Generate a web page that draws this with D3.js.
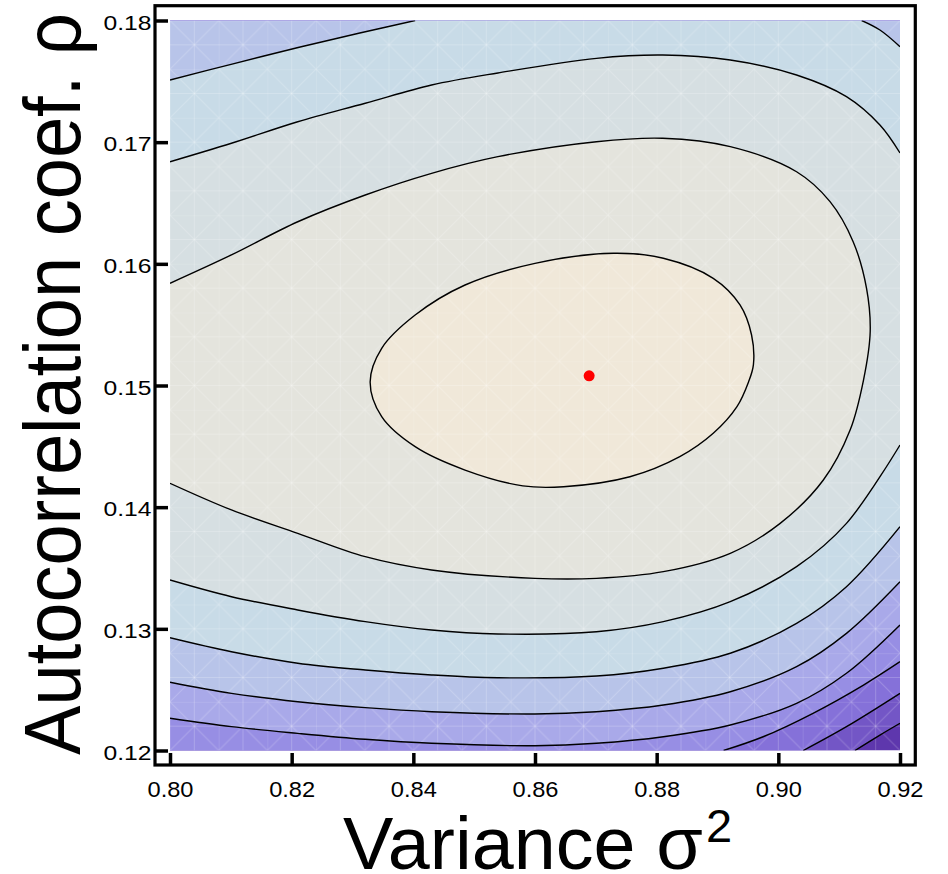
<!DOCTYPE html>
<html>
<head>
<meta charset="utf-8">
<script src="https://cdn.jsdelivr.net/npm/d3@7"></script>
<style>
  html, body { margin: 0; padding: 0; background: #fff; }
  svg { display: block; }
  text { font-family: "Liberation Sans", Arial, Helvetica, sans-serif; fill: #000; }
</style>
</head>
<body>
<svg id="chart" width="948" height="874"></svg>
<script>
// Axis ticks
const sigmaTicks = [0.80, 0.82, 0.84, 0.86, 0.88, 0.90, 0.92];
const rhoTicks = [0.12, 0.13, 0.14, 0.15, 0.16, 0.17, 0.18];

// Maximum-likelihood estimate (σ², ρ)
const estimate = [0.8689, 0.1508];

// Contour lines of the likelihood surface, [σ², ρ] pairs, highest level first
const level1 = [ // closed loop around the estimate
  [0.8329, 0.15029], [0.8348, 0.15306], [0.8403, 0.15579], [0.8485, 0.15826],
  [0.8600, 0.16004], [0.8729, 0.16087], [0.8811, 0.16046], [0.8893, 0.15881],
  [0.8937, 0.15662], [0.8956, 0.15415], [0.8959, 0.15169], [0.8951, 0.15029],
  [0.8932, 0.14826], [0.8893, 0.14607], [0.8838, 0.14415], [0.8756, 0.14250],
  [0.8647, 0.14168], [0.8580, 0.14175], [0.8485, 0.14305], [0.8403, 0.14497],
  [0.8348, 0.14744]
];
const level2 = [
  [0.8000, 0.15840], [0.8101, 0.16073], [0.8210, 0.16346], [0.8321, 0.16566],
  [0.8430, 0.16744], [0.8539, 0.16881], [0.8701, 0.17004],
  [0.8810, 0.17032], [0.8921, 0.16963], [0.9030, 0.16757], [0.9085, 0.16511],
  [0.9123, 0.16182], [0.9145, 0.15799], [0.9151, 0.15442], [0.9140, 0.15045],
  [0.9118, 0.14634], [0.9074, 0.14223], [0.9003, 0.13867], [0.8921, 0.13621],
  [0.8811, 0.13470], [0.8701, 0.13415], [0.8600, 0.13415],
  [0.8430, 0.13484], [0.8321, 0.13593], [0.8210, 0.13785], [0.8101, 0.13977],
  [0.8000, 0.14196]
];
const level3Upper = [
  [0.8000, 0.16839], [0.8101, 0.16991], [0.8210, 0.17168], [0.8321, 0.17320],
  [0.8430, 0.17470], [0.8539, 0.17569], [0.8701, 0.17689],
  [0.8810, 0.17716], [0.8921, 0.17675], [0.9030, 0.17552], [0.9112, 0.17374],
  [0.9167, 0.17141], [0.9200, 0.16911]
];
const level3Lower = [
  [0.8000, 0.13401], [0.8101, 0.13264], [0.8210, 0.13155], [0.8321, 0.13059],
  [0.8430, 0.12990], [0.8539, 0.12958], [0.8701, 0.12976],
  [0.8811, 0.13059], [0.8921, 0.13223], [0.9030, 0.13511], [0.9112, 0.13867],
  [0.9200, 0.14511]
];
const level4Upper = [
  [0.8000, 0.17511], [0.8102, 0.17642], [0.8214, 0.17782], [0.8312, 0.17897],
  [0.8403, 0.18000]
];
const level4Corner = [
  [0.9137, 0.18000], [0.9167, 0.17922], [0.9200, 0.17785]
];
const level4Lower = [
  [0.8000, 0.12927], [0.8101, 0.12812], [0.8210, 0.12717], [0.8321, 0.12662],
  [0.8430, 0.12621], [0.8539, 0.12598], [0.8701, 0.12612],
  [0.8811, 0.12676], [0.8921, 0.12799], [0.9030, 0.13045], [0.9112, 0.13346],
  [0.9200, 0.13839]
];
const level5 = [
  [0.8000, 0.12561], [0.8101, 0.12470], [0.8210, 0.12401], [0.8321, 0.12352],
  [0.8430, 0.12319], [0.8600, 0.12300], [0.8701, 0.12319], [0.8811, 0.12374],
  [0.8921, 0.12483], [0.9030, 0.12689], [0.9112, 0.12963], [0.9200, 0.13387]
];
const level6 = [
  [0.8000, 0.12265], [0.8101, 0.12196], [0.8210, 0.12141], [0.8321, 0.12092],
  [0.8430, 0.12059], [0.8600, 0.12039], [0.8701, 0.12059], [0.8811, 0.12113],
  [0.8921, 0.12210], [0.9030, 0.12388], [0.9112, 0.12635], [0.9200, 0.13032]
];
const level7 = [
  [0.8910, 0.12000], [0.8975, 0.12113], [0.9057, 0.12306], [0.9140, 0.12538],
  [0.9200, 0.12730]
];
const level8 = [
  [0.9041, 0.12000], [0.9112, 0.12196], [0.9200, 0.12470]
];
const level9 = [
  [0.9126, 0.12000], [0.9167, 0.12127], [0.9200, 0.12224]
];

// Shading of each band, from the top of the surface down
const bandColors = [
  "#f0e8d9", "#e4e4dd", "#d6dfe2", "#c8dbe7", "#b8c4e9",
  "#a9a9e9", "#978ee4", "#8571d9", "#7356c6", "#5e37ad"
];

const svg = d3.select("#chart");

const x = d3.scaleLinear().domain([0.80, 0.92]).range([170, 900]);
const y = d3.scaleLinear().domain([0.12, 0.18]).range([750.5, 20.5]);

const X0 = x.range()[0], X1 = x.range()[1];
const Y0 = y.range()[1], Y1 = y.range()[0];

const defs = svg.append("defs");
defs.append("clipPath").attr("id", "plotClip")
  .append("rect").attr("x", X0).attr("y", Y0).attr("width", X1 - X0).attr("height", Y1 - Y0);

// faint triangulation mesh over the shaded surface
const cell = (X1 - X0) / 15;
const pat = defs.append("pattern").attr("id", "mesh")
  .attr("patternUnits", "userSpaceOnUse")
  .attr("x", X0).attr("y", Y0)
  .attr("width", cell).attr("height", cell);
const h = cell / 2;
[
  [0, 0, cell, 0], [0, 0, 0, cell], [h, 0, h, cell], [0, h, cell, h],
  [0, 0, cell, cell], [cell, 0, 0, cell]
].forEach(s => pat.append("line")
  .attr("x1", s[0]).attr("y1", s[1]).attr("x2", s[2]).attr("y2", s[3])
  .attr("stroke", "#ffffff").attr("stroke-opacity", 0.2).attr("stroke-width", 1));

const line = d3.line().x(d => x(d[0])).y(d => y(d[1])).curve(d3.curveCatmullRom.alpha(0.5));
const loop = d3.line().x(d => x(d[0])).y(d => y(d[1])).curve(d3.curveCatmullRomClosed.alpha(0.5));
const seg = pts => line(pts).replace(/^M/, "L");
const rev = pts => pts.slice().reverse();

// Super-level regions, painted from the lowest level up
const regions = [
  `M${X0},${Y0}L${X1},${Y0}` + seg(rev(level9)) + `L${X0},${Y1}Z`,
  `M${X0},${Y0}L${X1},${Y0}` + seg(rev(level8)) + `L${X0},${Y1}Z`,
  `M${X0},${Y0}L${X1},${Y0}` + seg(rev(level7)) + `L${X0},${Y1}Z`,
  `M${X0},${Y0}L${X1},${Y0}` + seg(rev(level6)) + `Z`,
  `M${X0},${Y0}L${X1},${Y0}` + seg(rev(level5)) + `Z`,
  line(level4Upper) + seg(level4Corner) + seg(rev(level4Lower)) + `Z`,
  line(level3Upper) + seg(rev(level3Lower)) + `Z`,
  line(level2) + `Z`,
  loop(level1)
];

const plot = svg.append("g").attr("clip-path", "url(#plotClip)");
plot.append("rect")
  .attr("x", X0).attr("y", Y0).attr("width", X1 - X0).attr("height", Y1 - Y0)
  .attr("fill", bandColors[9]);
plot.selectAll("path.band").data(regions).join("path")
  .attr("class", "band")
  .attr("d", d => d)
  .attr("fill", (d, i) => bandColors[8 - i]);
plot.append("rect")
  .attr("x", X0).attr("y", Y0).attr("width", X1 - X0).attr("height", Y1 - Y0)
  .attr("fill", "url(#mesh)");

const openLines = [level2, level3Upper, level3Lower, level4Upper, level4Corner,
  level4Lower, level5, level6, level7, level8, level9];
plot.selectAll("path.contour").data(openLines).join("path")
  .attr("class", "contour")
  .attr("d", line)
  .attr("fill", "none").attr("stroke", "#000").attr("stroke-width", 1.4);
plot.append("path").attr("d", loop(level1))
  .attr("fill", "none").attr("stroke", "#000").attr("stroke-width", 1.4);

// estimate marker
svg.append("circle")
  .attr("cx", x(estimate[0])).attr("cy", y(estimate[1])).attr("r", 5.5)
  .attr("fill", "#ff0000");

// Frame
svg.append("rect")
  .attr("x", 155).attr("y", 5.7).attr("width", 760.3).attr("height", 759.3)
  .attr("fill", "none").attr("stroke", "#000").attr("stroke-width", 3.2);

// Axes with inward ticks
const fmt = d3.format(".2f");
const yAxis = svg.append("g").attr("transform", "translate(155,0)")
  .call(d3.axisLeft(y).tickValues(rhoTicks).tickFormat(fmt)
    .tickSizeInner(-13).tickSizeOuter(0).tickPadding(3.5));
yAxis.select(".domain").remove();
yAxis.selectAll(".tick line").attr("stroke", "#000").attr("stroke-width", 3.5);
yAxis.selectAll(".tick text")
  .attr("font-size", 20).attr("font-family", null)
  .attr("dy", "0.43em")
  .attr("textLength", 48).attr("lengthAdjust", "spacingAndGlyphs");

const xAxis = svg.append("g").attr("transform", "translate(0,765)")
  .call(d3.axisBottom(x).tickValues(sigmaTicks).tickFormat(fmt)
    .tickSizeInner(-12).tickSizeOuter(0).tickPadding(0));
xAxis.select(".domain").remove();
xAxis.selectAll(".tick line").attr("stroke", "#000").attr("stroke-width", 3.5);
xAxis.selectAll(".tick text")
  .attr("font-size", 21.5).attr("font-family", null)
  .attr("y", 31.7).attr("dy", null)
  .attr("textLength", 46).attr("lengthAdjust", "spacingAndGlyphs");

// Axis titles, horizontally scaled to their set widths
const yt = svg.append("text")
  .attr("text-anchor", "middle")
  .attr("font-size", 79)
  .text("Autocorrelation coef. ρ");
const ytw = yt.node().getComputedTextLength();
yt.attr("transform", `translate(80,384) rotate(-90) scale(${742 / ytw},1)`);

const xt = svg.append("g");
const xtMain = xt.append("text").attr("font-size", 74).text("Variance σ");
const xtw = xtMain.node().getComputedTextLength();
xtMain.attr("transform", `translate(343,869) scale(${360 / xtw},1)`);
xt.append("text").attr("font-size", 47)
  .attr("x", 706).attr("y", 841.5).text("2");
</script>
</body>
</html>
